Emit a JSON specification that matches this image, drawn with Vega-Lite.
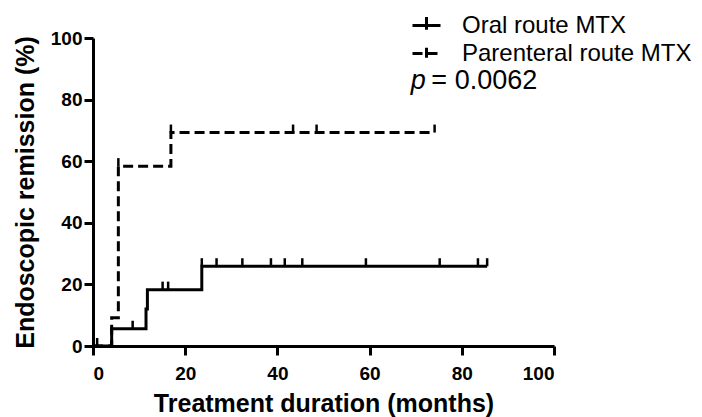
{
  "$schema": "https://vega.github.io/schema/vega-lite/v6.json",
  "width": 461,
  "height": 308,
  "autosize": {"type": "none"},
  "padding": {"left": 93, "top": 38, "right": 148, "bottom": 71},
  "background": "white",
  "config": {
    "view": {"stroke": null},
    "font": "Liberation Sans",
    "axis": {
      "domainColor": "black", "domainWidth": 3, "tickColor": "black", "tickWidth": 3,
      "tickSize": 9, "grid": false, "labelColor": "black", "labelFont": "Liberation Sans",
      "labelFontWeight": "bold", "labelFontSize": 19, "titleColor": "black",
      "titleFont": "Liberation Sans", "titleFontWeight": "bold", "titleFontSize": 25
    }
  },
  "datasets": {
    "curves": [
      {"series": "Oral route MTX", "t": 0, "pct": 0},
      {"series": "Oral route MTX", "t": 4.05, "pct": 5.6},
      {"series": "Oral route MTX", "t": 11.5, "pct": 12.0},
      {"series": "Oral route MTX", "t": 11.8, "pct": 18.3},
      {"series": "Oral route MTX", "t": 23.6, "pct": 25.9},
      {"series": "Oral route MTX", "t": 85.5, "pct": 25.9},
      {"series": "Parenteral route MTX", "t": 0, "pct": 0},
      {"series": "Parenteral route MTX", "t": 4.05, "pct": 9.2},
      {"series": "Parenteral route MTX", "t": 5.5, "pct": 58.4},
      {"series": "Parenteral route MTX", "t": 16.9, "pct": 69.3},
      {"series": "Parenteral route MTX", "t": 74.1, "pct": 69.3}
    ],
    "censor": [
      {"series": "Oral route MTX", "t": 0.9, "pct": 0},
      {"series": "Oral route MTX", "t": 8.6, "pct": 5.6},
      {"series": "Oral route MTX", "t": 15.1, "pct": 18.3},
      {"series": "Oral route MTX", "t": 16.3, "pct": 18.3},
      {"series": "Oral route MTX", "t": 23.6, "pct": 25.9},
      {"series": "Oral route MTX", "t": 26.8, "pct": 25.9},
      {"series": "Oral route MTX", "t": 32.4, "pct": 25.9},
      {"series": "Oral route MTX", "t": 38.6, "pct": 25.9},
      {"series": "Oral route MTX", "t": 41.6, "pct": 25.9},
      {"series": "Oral route MTX", "t": 45.4, "pct": 25.9},
      {"series": "Oral route MTX", "t": 59.2, "pct": 25.9},
      {"series": "Oral route MTX", "t": 75.2, "pct": 25.9},
      {"series": "Oral route MTX", "t": 83.5, "pct": 25.9},
      {"series": "Oral route MTX", "t": 85.5, "pct": 25.9},
      {"series": "Parenteral route MTX", "t": 5.5, "pct": 58.4},
      {"series": "Parenteral route MTX", "t": 16.9, "pct": 69.3},
      {"series": "Parenteral route MTX", "t": 43.4, "pct": 69.3},
      {"series": "Parenteral route MTX", "t": 48.5, "pct": 69.3},
      {"series": "Parenteral route MTX", "t": 74.1, "pct": 69.3}
    ],
    "annot": [
      {"t": 68.9, "pct": 83.5, "label": "p", "style": "italic"},
      {"t": 73.4, "pct": 83.5, "label": "= 0.0062", "style": "normal"}
    ]
  },
  "layer": [
    {
      "data": {"name": "curves"},
      "mark": {"type": "line", "interpolate": "step-after", "color": "black", "strokeWidth": 3, "strokeCap": "butt"},
      "encoding": {
        "x": {"field": "t", "type": "quantitative",
              "scale": {"domain": [0, 100], "nice": false, "zero": false},
              "axis": {"values": [0, 20, 40, 60, 80, 100], "title": "Treatment duration (months)",
                       "labelPadding": 9, "titleY": 65, "titleBaseline": "alphabetic"}},
        "y": {"field": "pct", "type": "quantitative",
              "scale": {"domain": [0, 100], "nice": false},
              "axis": {"values": [0, 20, 40, 60, 80, 100], "title": "Endoscopic remission (%)",
                       "labelPadding": 2, "titleX": -60, "titleY": 154, "titleBaseline": "alphabetic"}},
        "strokeDash": {"field": "series", "type": "nominal",
                       "scale": {"domain": ["Oral route MTX", "Parenteral route MTX"], "range": [[1, 0], [10, 5]]},
                       "legend": {"title": null, "orient": "none", "legendX": 318, "legendY": -28,
                                  "symbolType": "M-1,0H1M0,0.3V-0.6", "symbolSize": 784,
                                  "symbolStrokeWidth": 3, "symbolStrokeColor": "black", "symbolFillColor": "transparent",
                                  "labelFontSize": 24, "labelColor": "black", "labelFont": "Liberation Sans",
                                  "labelLimit": 0, "labelOffset": 20, "rowPadding": -1}}
      }
    },
    {
      "data": {"name": "censor"},
      "mark": {"type": "rule", "color": "black", "strokeWidth": 2.5, "y2Offset": -8},
      "encoding": {
        "x": {"field": "t", "type": "quantitative"},
        "y": {"field": "pct", "type": "quantitative"},
        "y2": {"field": "pct"}
      }
    },
    {
      "data": {"name": "annot"},
      "transform": [{"filter": "datum.style === 'italic'"}],
      "mark": {"type": "text", "align": "left", "baseline": "alphabetic", "fontSize": 27, "fontStyle": "italic", "color": "black", "font": "Liberation Sans"},
      "encoding": {
        "x": {"field": "t", "type": "quantitative"},
        "y": {"field": "pct", "type": "quantitative"},
        "text": {"field": "label"}
      }
    },
    {
      "data": {"name": "annot"},
      "transform": [{"filter": "datum.style === 'normal'"}],
      "mark": {"type": "text", "align": "left", "baseline": "alphabetic", "fontSize": 27, "color": "black", "font": "Liberation Sans"},
      "encoding": {
        "x": {"field": "t", "type": "quantitative"},
        "y": {"field": "pct", "type": "quantitative"},
        "text": {"field": "label"}
      }
    }
  ]
}
